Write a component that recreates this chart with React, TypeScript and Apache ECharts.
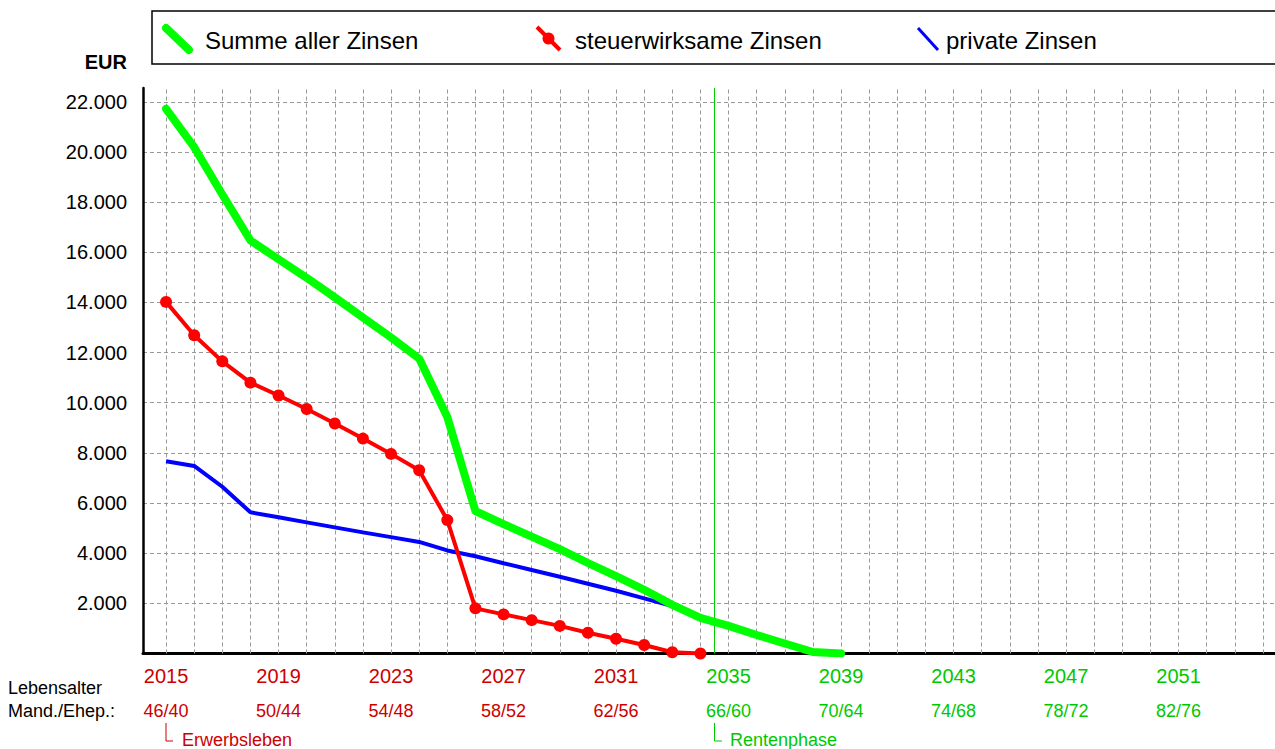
import React, { useEffect, useRef } from 'react';
import * as echarts from 'echarts';

const YEARS = [2015, 2016, 2017, 2018, 2019, 2020, 2021, 2022, 2023, 2024, 2025, 2026, 2027, 2028, 2029, 2030, 2031, 2032, 2033, 2034, 2035, 2036, 2037, 2038, 2039];
const SUMME = [21720, 20190, 18300, 16470, 15720, 14980, 14200, 13400, 12600, 11760, 9430, 5680, 5160, 4660, 4160, 3610, 3090, 2540, 1940, 1420, 1100, 740, 400, 60, 0];
const STEUER = [14020, 12690, 11650, 10800, 10290, 9750, 9170, 8570, 7960, 7310, 5320, 1800, 1560, 1330, 1100, 830, 590, 340, 50, 0];
const PRIVAT = [7670, 7480, 6650, 5630, 5430, 5230, 5030, 4830, 4640, 4450, 4110, 3880, 3600, 3330, 3060, 2780, 2500, 2200, 1890, 1420, 1100, 740, 400, 60, 0];

const GRID_YEARS = [2015, 2016, 2017, 2018, 2019, 2020, 2021, 2022, 2023, 2024, 2025, 2026, 2027, 2028, 2029, 2030, 2031, 2032, 2033, 2034, 2035, 2036, 2037, 2038, 2039, 2040, 2041, 2042, 2043, 2044, 2045, 2046, 2047, 2048, 2049, 2050, 2051, 2052, 2053, 2054];
const LABEL_YEARS = [2015, 2019, 2023, 2027, 2031, 2035, 2039, 2043, 2047, 2051];
const AGE_LABELS = ['46/40', '50/44', '54/48', '58/52', '62/56', '66/60', '70/64', '74/68', '78/72', '82/76'];
const RENTEN_START = 2034.5;
const PHASES = ['Erwerbsleben', 'Rentenphase'];
const LEGEND_NAMES = ['Summe aller Zinsen', 'steuerwirksame Zinsen', 'private Zinsen'];

const FONT = '"Liberation Sans", Arial, Helvetica, sans-serif';
const RED_TXT = '#cc0000';
const GREEN_TXT = '#00c800';

const fmt = (v: number) => String(v).replace(/\B(?=(\d{3})+(?!\d))/g, '.');

export default function App() {
  const ref = useRef<HTMLDivElement>(null);
  useEffect(() => {
    const chart = echarts.init(ref.current!, null, { renderer: 'svg' });
    const txt = (text: string, x: number, y: number, size: number, fill: string, align = 'left', weight = 'normal') => ({
      type: 'text',
      x,
      y,
      silent: true,
      style: {
        text,
        fill,
        fontSize: size,
        fontFamily: FONT,
        fontWeight: weight,
        align,
        verticalAlign: 'middle',
        textAlign: align,
        textVerticalAlign: 'middle',
      },
    });
    const option: any = {
      animation: false,
      backgroundColor: '#ffffff',
      grid: { left: 143, right: 0, top: 88, bottom: 95.5, outerBoundsMode: 'none', containLabel: false },
      xAxis: {
        type: 'value',
        min: 2014.18,
        max: 2054.43,
        axisLine: { show: true, lineStyle: { color: '#000', width: 3 } },
        axisTick: { show: false },
        splitLine: { show: false },
        axisLabel: {
          customValues: LABEL_YEARS,
          margin: 10,
          formatter: (v: number) => {
            const i = LABEL_YEARS.indexOf(v);
            const g = v >= RENTEN_START;
            return `{${g ? 'gy' : 'ry'}|${v}}\n{${g ? 'ga' : 'ra'}|${AGE_LABELS[i] ?? ''}}`;
          },
          rich: {
            ry: { color: RED_TXT, fontSize: 20, fontFamily: FONT, lineHeight: 24 },
            gy: { color: GREEN_TXT, fontSize: 20, fontFamily: FONT, lineHeight: 24 },
            ra: { color: RED_TXT, fontSize: 18, fontFamily: FONT, lineHeight: 46 },
            ga: { color: GREEN_TXT, fontSize: 18, fontFamily: FONT, lineHeight: 46 },
          },
        },
      },
      yAxis: {
        type: 'value',
        min: 0,
        max: 22550,
        interval: 2000,
        axisLine: { show: true, lineStyle: { color: '#000', width: 2.5 } },
        axisTick: { show: false },
        axisLabel: {
          color: '#000',
          fontSize: 20,
          fontFamily: FONT,
          margin: 16,
          showMinLabel: false,
          showMaxLabel: false,
          formatter: (v: number) => (v > 0 && v % 2000 === 0 ? fmt(v) : ''),
        },
        splitLine: {
          show: true,
          showMinLine: false,
          showMaxLine: false,
          lineStyle: { color: '#999999', width: 1, type: [4, 3] },
        },
      },
      series: [
        {
          type: 'line',
          name: 'grid',
          data: [],
          z: 1,
          silent: true,
          markLine: {
            z: 1,
            silent: true,
            symbol: ['none', 'none'],
            label: { show: false },
            lineStyle: { color: '#999999', width: 1, type: [4, 3] },
            data: GRID_YEARS.map((y) => ({ xAxis: y })),
          },
        },
        {
          type: 'line',
          name: 'renten',
          data: [],
          z: 2,
          silent: true,
          markLine: {
            z: 2,
            silent: true,
            symbol: ['none', 'none'],
            label: { show: false },
            lineStyle: { color: '#00cc00', width: 1, type: 'solid' },
            data: [{ xAxis: RENTEN_START }],
          },
        },
        {
          type: 'line',
          name: LEGEND_NAMES[2],
          data: YEARS.map((y, i) => [y, PRIVAT[i]]),
          z: 3,
          symbol: 'none',
          lineStyle: { color: '#0000ff', width: 4 },
          itemStyle: { color: '#0000ff' },
        },
        {
          type: 'line',
          name: LEGEND_NAMES[1],
          data: STEUER.map((v, i) => [YEARS[i], v]),
          z: 4,
          symbol: 'circle',
          symbolSize: 12,
          showAllSymbol: true,
          lineStyle: { color: '#ff0000', width: 4 },
          itemStyle: { color: '#ff0000' },
        },
        {
          type: 'line',
          name: LEGEND_NAMES[0],
          data: YEARS.map((y, i) => [y, SUMME[i]]),
          z: 5,
          symbol: 'none',
          lineStyle: { color: '#00ff00', width: 8, cap: 'round', join: 'round' },
          itemStyle: { color: '#00ff00' },
        },
      ],
      graphic: [
        {
          type: 'rect',
          silent: true,
          shape: { x: 152, y: 11, width: 1200, height: 53 },
          style: { fill: '#ffffff', stroke: '#000', lineWidth: 1.5 },
        },
        { type: 'line', silent: true, shape: { x1: 166, y1: 28, x2: 189, y2: 50 }, style: { stroke: '#00ff00', lineWidth: 8, lineCap: 'round' } },
        txt(LEGEND_NAMES[0], 205, 40, 24, '#000'),
        { type: 'line', silent: true, shape: { x1: 537, y1: 27, x2: 560, y2: 50 }, style: { stroke: '#ff0000', lineWidth: 4 } },
        { type: 'circle', silent: true, shape: { cx: 548.5, cy: 38.5, r: 6 }, style: { fill: '#ff0000' } },
        txt(LEGEND_NAMES[1], 575, 40, 24, '#000'),
        { type: 'line', silent: true, shape: { x1: 918, y1: 28, x2: 938, y2: 50 }, style: { stroke: '#0000ff', lineWidth: 3 } },
        txt(LEGEND_NAMES[2], 946, 40, 24, '#000'),
        txt('EUR', 127, 62, 20, '#000', 'right', 'bold'),
        txt('Lebensalter', 8, 688, 18, '#000'),
        txt('Mand./Ehep.:', 8, 711, 18, '#000'),
        { type: 'polyline', silent: true, shape: { points: [[166, 723], [166, 741], [173, 741]] }, style: { stroke: RED_TXT, lineWidth: 1, fill: 'none' } },
        txt(PHASES[0], 182, 740, 18, RED_TXT),
        { type: 'polyline', silent: true, shape: { points: [[714.5, 723], [714.5, 741], [722, 741]] }, style: { stroke: GREEN_TXT, lineWidth: 1, fill: 'none' } },
        txt(PHASES[1], 730, 740, 18, GREEN_TXT),
      ],
    };
    chart.setOption(option);
    return () => chart.dispose();
  }, []);
  return <div ref={ref} style={{ position: 'fixed', left: 0, top: 0, width: 1275, height: 749, background: '#fff' }} />;
}
